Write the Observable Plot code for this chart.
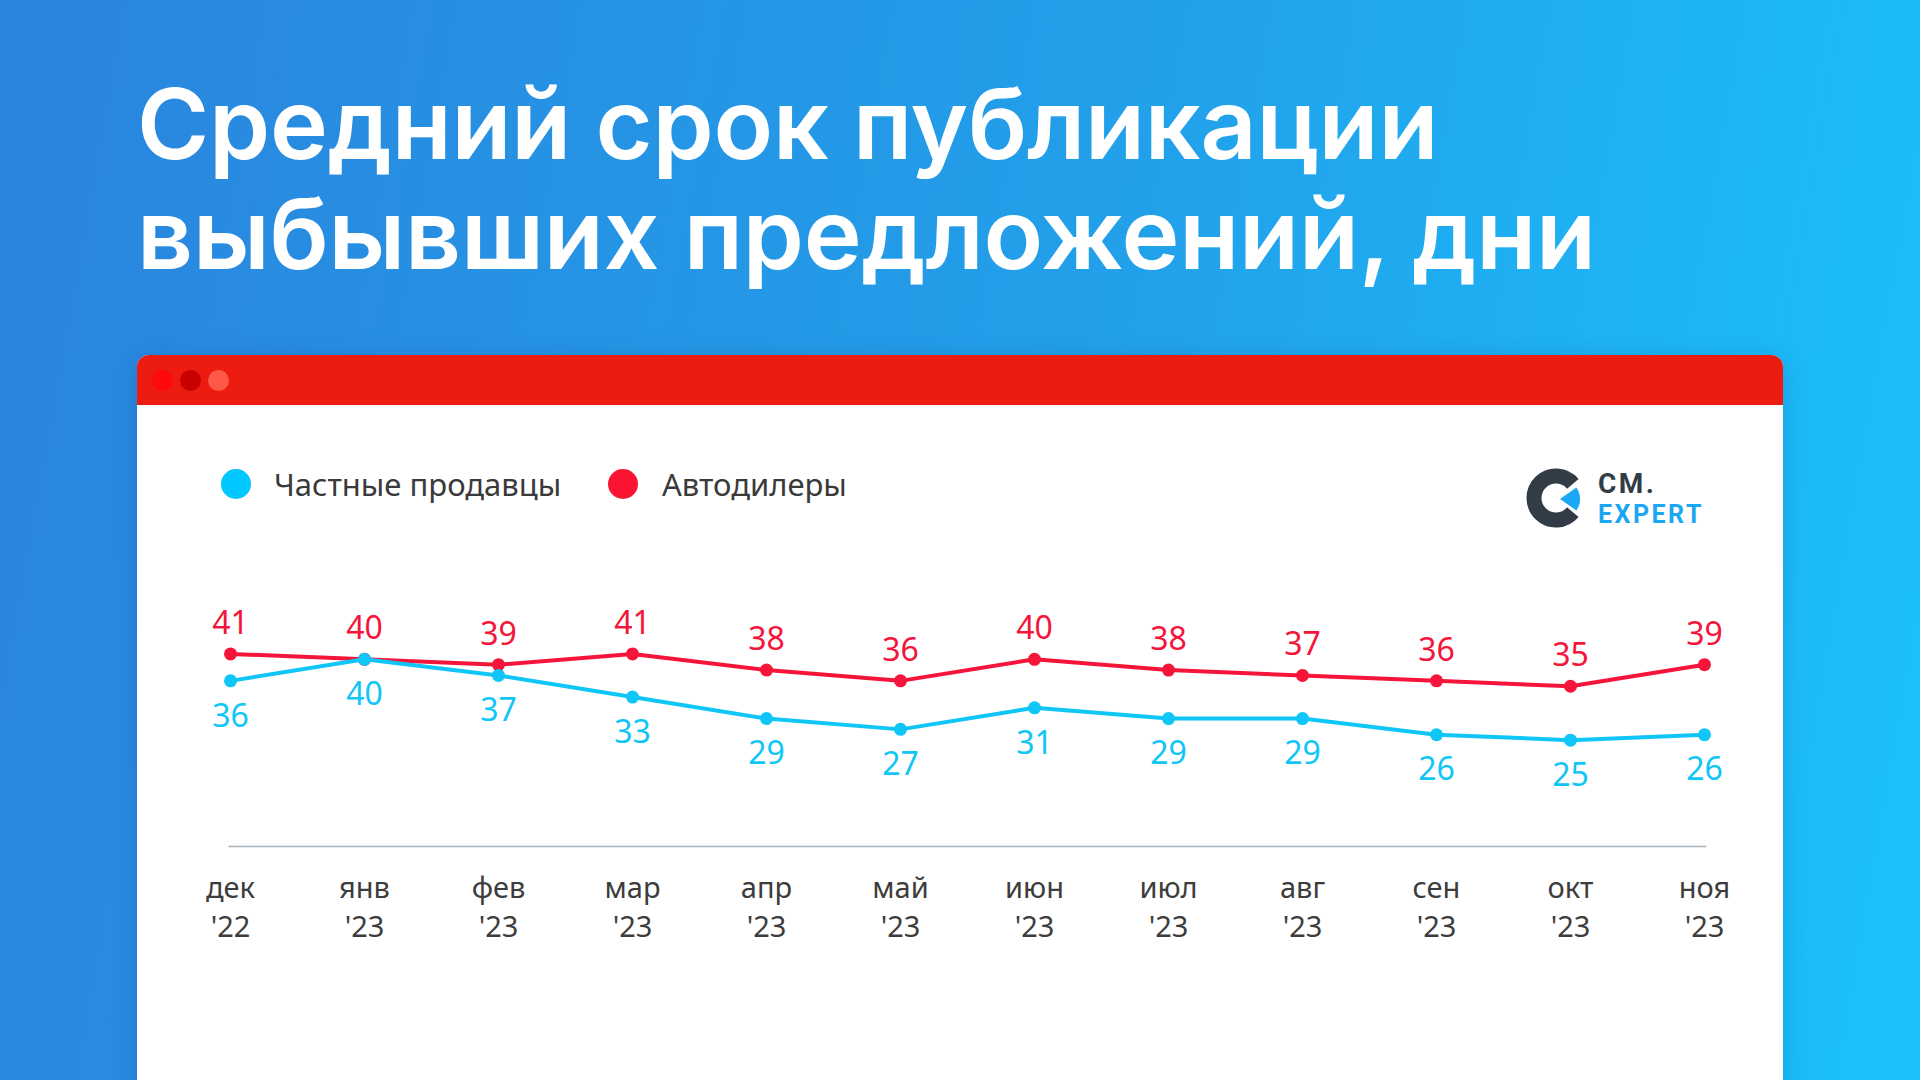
<!DOCTYPE html>
<html><head><meta charset="utf-8">
<script src="https://cdn.jsdelivr.net/npm/d3@7"></script>
<script src="https://cdn.jsdelivr.net/npm/@observablehq/plot@0.6"></script>
<style>
html,body{margin:0;padding:0;}
body{width:1920px;height:1080px;overflow:hidden;position:relative;
 background:linear-gradient(100deg,#2a84dd 0%,#22a0ea 55%,#1bc2fc 100%);font-family:"Noto Sans",sans-serif;}
#title{position:absolute;left:137px;top:69px;color:#fff;font-family:Inter,sans-serif;font-weight:600;font-size:98px;line-height:110px;white-space:nowrap;letter-spacing:-0.2px;}
#card{position:absolute;left:137px;top:355px;width:1646px;height:760px;background:#fff;border-radius:12px 12px 0 0;box-shadow:0 4px 24px rgba(0,40,120,0.18);overflow:hidden;}
#hdr{position:absolute;left:0;top:0;width:100%;height:50px;background:#ed1c10;}
.wd{position:absolute;top:15px;width:21px;height:21px;border-radius:50%;}
#legend{position:absolute;left:0;top:0;}
.li{position:absolute;font-size:31px;color:#3a3a3a;white-space:nowrap;line-height:40px;}
.lc{position:absolute;width:30px;height:30px;border-radius:50%;}
#chart{position:absolute;left:0;top:50px;}
#logo{position:absolute;left:1387px;top:100px;}
</style></head>
<body>
<div id="title">Средний срок публикации<br>выбывших предложений, дни</div>
<div id="card">
  <div id="hdr">
    <div class="wd" style="left:15px;background:#ff0a0a"></div>
    <div class="wd" style="left:43px;background:#c80000"></div>
    <div class="wd" style="left:71px;background:#ff5848"></div>
  </div>
  <div id="legend"></div>
  <svg id="logo" width="230" height="84" viewBox="0 0 230 84">
    <g transform="translate(0,10)">
    <path d="M 48.85 18.86 A 22 22 0 1 0 48.85 47.14" fill="none" stroke="#323c46" stroke-width="15"/>
    <path d="M 36 34 L 52.4 22.5 A 20 20 0 0 1 52.4 45.5 Z" fill="#1aa7f3"/>
    <text x="74" y="28" font-family="Roboto" font-weight="700" font-size="28" fill="#323c46" letter-spacing="2.5">CM.</text>
    <text x="74" y="58" font-family="Roboto" font-weight="700" font-size="25" fill="#1da6f2" letter-spacing="2.5">EXPERT</text>
    </g>
  </svg>
  <div id="chart"></div>
</div>
<script>
const months = ["дек","янв","фев","мар","апр","май","июн","июл","авг","сен","окт","ноя"];
const years = ["'22","'23","'23","'23","'23","'23","'23","'23","'23","'23","'23","'23"];
const privateSellers = [36,40,37,33,29,27,31,29,29,26,25,26];
const dealers = [41,40,39,41,38,36,40,38,37,36,35,39];
const seriesNames = ["Частные продавцы","Автодилеры"];
const seriesColors = ["#0fc6f6","#f5153a"];

const labels = months.map((m,i)=>m+"\n"+years[i]);
const data = labels.map((l,i)=>({label:l, priv:privateSellers[i], deal:dealers[i]}));

// legend
const lg = document.getElementById("legend");
const legendPos = [{c:84,t:137},{c:471,t:525}];
seriesNames.forEach((n,i)=>{
  const c=document.createElement("div");c.className="lc";
  c.style.left=(legendPos[i].c)+"px";c.style.top="114px";c.style.background=i===0?"#00c8ff":"#fa1432";
  lg.appendChild(c);
  const t=document.createElement("div");t.className="li";t.textContent=n;
  t.style.left=legendPos[i].t+"px";t.style.top="109px";
  lg.appendChild(t);
});

const chart = Plot.plot({
  width:1646, height:620,
  marginLeft:92, marginRight:78, marginTop:0, marginBottom:179,
  x:{type:"point", domain:labels, padding:0},
  y:{domain:[20,45], range:[361.6,226.85], axis:null},
  style:{fontFamily:"'Noto Sans',sans-serif", background:"transparent", overflow:"visible"},
  marks:[
    Plot.frame({anchor:"bottom", stroke:"#a9b2bc", strokeWidth:1.5}),
    Plot.axisX({tickSize:0, tickPadding:24, fontSize:29, lineHeight:1.345, fill:"#3d3d3d", label:null}),
    Plot.line(data,{x:"label", y:"deal", stroke:seriesColors[1], strokeWidth:4}),
    Plot.dot(data,{x:"label", y:"deal", fill:seriesColors[1], r:6.5}),
    Plot.line(data,{x:"label", y:"priv", stroke:seriesColors[0], strokeWidth:4}),
    Plot.dot(data,{x:"label", y:"priv", fill:seriesColors[0], r:6.5}),
    Plot.text(data,{x:"label", y:"deal", text:"deal", fill:seriesColors[1], fontSize:32, lineAnchor:"bottom", dy:-20}),
    Plot.text(data,{x:"label", y:"priv", text:"priv", fill:seriesColors[0], fontSize:32, lineAnchor:"top", dy:23})
  ]
});
document.getElementById("chart").appendChild(chart);
</script>
</body></html>
